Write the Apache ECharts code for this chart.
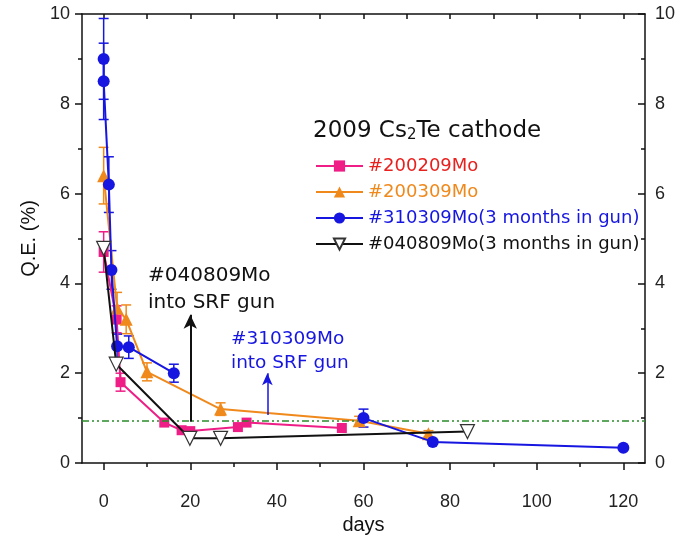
<!DOCTYPE html>
<html><head><meta charset="utf-8">
<script src="https://cdn.jsdelivr.net/npm/echarts@6/dist/echarts.min.js"></script>
<style>html,body{margin:0;padding:0;background:#fff}#c{width:681px;height:536px}</style>
</head><body><div id="c"></div>
<script>
// [day, QE %, error]
const pinkData   = [[0,4.7,0.45],[3.0,3.2,0.3],[3.9,1.8,0.2],[14,0.9,0],[18,0.73,0],[20,0.71,0],[31,0.8,0],[33,0.9,0],[55,0.78,0]];
const orangeData = [[0,6.4,0.63],[3.1,3.45,0.35],[5.2,3.2,0.32],[10,2.03,0.2],[27,1.2,0.14],[59,0.94,0.1],[75,0.65,0.07]];
const blueData1  = [[0,9.0,0.9],[0,8.5,0.85],[1.2,6.2,0.62],[1.8,4.3,0.43],[3.1,2.6,0.27],[5.8,2.58,0.25],[16.2,2.0,0.2]];
const blueData2  = [[60,1.0,0.2],[76,0.47,0.05],[120,0.34,0.03]];
const blackData  = [[0,4.78],[2.9,2.2],[19.9,0.55],[27,0.55],[84,0.7]];
const refLevel = 0.95;
const xMajor = [0,20,40,60,80,100,120];
const xMinor = [10,30,50,70,90,110];
const xTop = [0,10,20,30,40,50,60,70,80,90,100,110,120];
const names = ['#200209Mo','#200309Mo','#310309Mo(3 months in gun)','#040809Mo(3 months in gun)'];
const arrowBlack = [[20,0.92],[20,3.3]];
const arrowBlue = [[37.8,1.07],[37.8,2.0]];

const PINK='#ee1e86', ORANGE='#f0891c', BLUE='#1616e0', BLACK='#111', GREEN='#2a8a2a';
const tickFont = '"Liberation Sans",Arial,sans-serif';
const font = '"DejaVu Sans",sans-serif';
const nameFont = '"Liberation Sans",Arial,sans-serif';

function errSeries(data, color){
  return {type:'custom', xAxisIndex:0, yAxisIndex:0, z:3, silent:true, data:data,
    renderItem:function(params, api){
      const x=api.value(0), y=api.value(1), e=api.value(2);
      if(!e) return null;
      const t=api.coord([x,y+e]), b=api.coord([x,y-e]), w=5;
      const st={stroke:color, lineWidth:1.5};
      return {type:'group', children:[
        {type:'line', shape:{x1:t[0],y1:t[1],x2:b[0],y2:b[1]}, style:st},
        {type:'line', shape:{x1:t[0]-w,y1:t[1],x2:t[0]+w,y2:t[1]}, style:st},
        {type:'line', shape:{x1:b[0]-w,y1:b[1],x2:b[0]+w,y2:b[1]}, style:st}
      ]};
    }};
}
const xy = d => d.map(p=>[p[0],p[1]]);

const chart = echarts.init(document.getElementById('c'), null, {renderer:'canvas'});
chart.setOption({
  animation:false,
  backgroundColor:'#fff',
  grid:{left:82, right:36, top:14, bottom:73, containLabel:false, outerBoundsMode:'none'},
  title:{text:'2009 Cs{s|2}Te cathode', left:308, top:115,
    textStyle:{fontFamily:font, fontSize:23, fontWeight:'normal', color:'#111',
      rich:{s:{fontFamily:font, fontSize:15, color:'#111', verticalAlign:'bottom', padding:[8,0,0,0]}}}},
  legend:{orient:'vertical', left:310, top:152, itemWidth:47, itemHeight:14, itemGap:8,
    selectedMode:false, textStyle:{fontFamily:font, fontSize:18},
    data:[
      {name:names[0], textStyle:{color:'#e8201e'}},
      {name:names[1], textStyle:{color:ORANGE}},
      {name:names[2], textStyle:{color:BLUE}},
      {name:names[3], textStyle:{color:BLACK}}
    ]},
  xAxis:[
    {type:'value', min:-5, max:125, position:'bottom',
     name:'days', nameLocation:'middle', nameGap:46,
     nameTextStyle:{fontFamily:nameFont, fontSize:20, color:'#111'},
     axisLine:{show:true, onZero:false, lineStyle:{color:'#111', width:1.5}},
     axisTick:{show:true, inside:false, length:7, customValues:xMajor, lineStyle:{color:'#111', width:1.5}},
     axisLabel:{show:true, customValues:xMajor, margin:30, fontFamily:tickFont, fontSize:18, color:'#222'},
     splitLine:{show:false}},
    {type:'value', min:-5, max:125, position:'bottom',
     axisLine:{show:false, onZero:false},
     axisTick:{show:true, inside:false, length:4, customValues:xMinor, lineStyle:{color:'#111', width:1.5}},
     axisLabel:{show:false}, splitLine:{show:false}},
    {type:'value', min:-5, max:125, position:'top',
     axisLine:{show:true, onZero:false, lineStyle:{color:'#111', width:1.5}},
     axisTick:{show:true, inside:true, length:5, customValues:xTop, lineStyle:{color:'#111', width:1.5}},
     axisLabel:{show:false}, splitLine:{show:false}}
  ],
  yAxis:[
    {type:'value', min:0, max:10, interval:2, position:'left',
     name:'Q.E. (%)', nameLocation:'middle', nameGap:38, nameRotate:90,
     nameTextStyle:{fontFamily:nameFont, fontSize:20, color:'#111'},
     axisLine:{show:true, onZero:false, lineStyle:{color:'#111', width:1.5}},
     axisTick:{show:true, inside:false, length:7, lineStyle:{color:'#111', width:1.5}},
     minorTick:{show:true, splitNumber:2, length:4, lineStyle:{color:'#111', width:1.5}},
     axisLabel:{margin:12, fontFamily:tickFont, fontSize:18, color:'#222'},
     splitLine:{show:false}, minorSplitLine:{show:false}},
    {type:'value', min:0, max:10, interval:2, position:'right',
     axisLine:{show:true, onZero:false, lineStyle:{color:'#111', width:1.5}},
     axisTick:{show:true, inside:true, length:7, lineStyle:{color:'#111', width:1.5}},
     minorTick:{show:true, splitNumber:2, length:4, lineStyle:{color:'#111', width:1.5}},
     axisLabel:{margin:10, fontFamily:tickFont, fontSize:18, color:'#222'},
     splitLine:{show:false}, minorSplitLine:{show:false}}
  ],
  series:[
    {type:'line', name:'ref', data:[], silent:true, legendHoverLink:false,
     markLine:{silent:true, symbol:['none','none'], label:{show:false},
       lineStyle:{color:GREEN, width:1.5, type:[7,3,2,3,2,3]},
       data:[{yAxis:refLevel}]}},
    errSeries(pinkData, PINK),
    errSeries(orangeData, ORANGE),
    errSeries(blueData1.concat(blueData2), BLUE),
    {type:'line', name:names[0], data:xy(pinkData), z:4,
     symbol:'rect', symbolSize:10, itemStyle:{color:PINK}, lineStyle:{color:PINK, width:2}},
    {type:'line', name:names[1], data:xy(orangeData), z:4,
     symbol:'triangle', symbolSize:13, itemStyle:{color:ORANGE}, lineStyle:{color:ORANGE, width:2}},
    {type:'line', name:names[2], data:xy(blueData1).concat([[null,null]], xy(blueData2)), z:5, connectNulls:false,
     symbol:'circle', symbolSize:12, itemStyle:{color:BLUE}, lineStyle:{color:BLUE, width:2},
     markLine:{silent:true, symbol:['none','arrow'], symbolSize:[8,12], label:{show:false},
       lineStyle:{color:BLUE, width:1.5, type:'solid'},
       data:[[{coord:arrowBlue[0]},{coord:arrowBlue[1]}]]}},
    {type:'line', name:names[3], data:xy(blackData), z:6,
     symbol:'triangle', symbolRotate:180, symbolSize:14,
     itemStyle:{color:'#fff', borderColor:'#333', borderWidth:1.2}, lineStyle:{color:BLACK, width:2},
     markLine:{silent:true, symbol:['none','arrow'], symbolSize:[10,14], label:{show:false},
       lineStyle:{color:BLACK, width:2, type:'solid'},
       data:[[{coord:arrowBlack[0]},{coord:arrowBlack[1]}]]}}
  ],
  graphic:[
    {type:'text', left:148, top:262, style:{text:'#040809Mo\ninto SRF gun', fill:'#111', font:'20px "DejaVu Sans",sans-serif', lineHeight:27}},
    {type:'text', left:231, top:327, style:{text:'#310309Mo\ninto SRF gun', fill:BLUE, font:'18.5px "DejaVu Sans",sans-serif', lineHeight:24}}
  ]
});
</script></body></html>
